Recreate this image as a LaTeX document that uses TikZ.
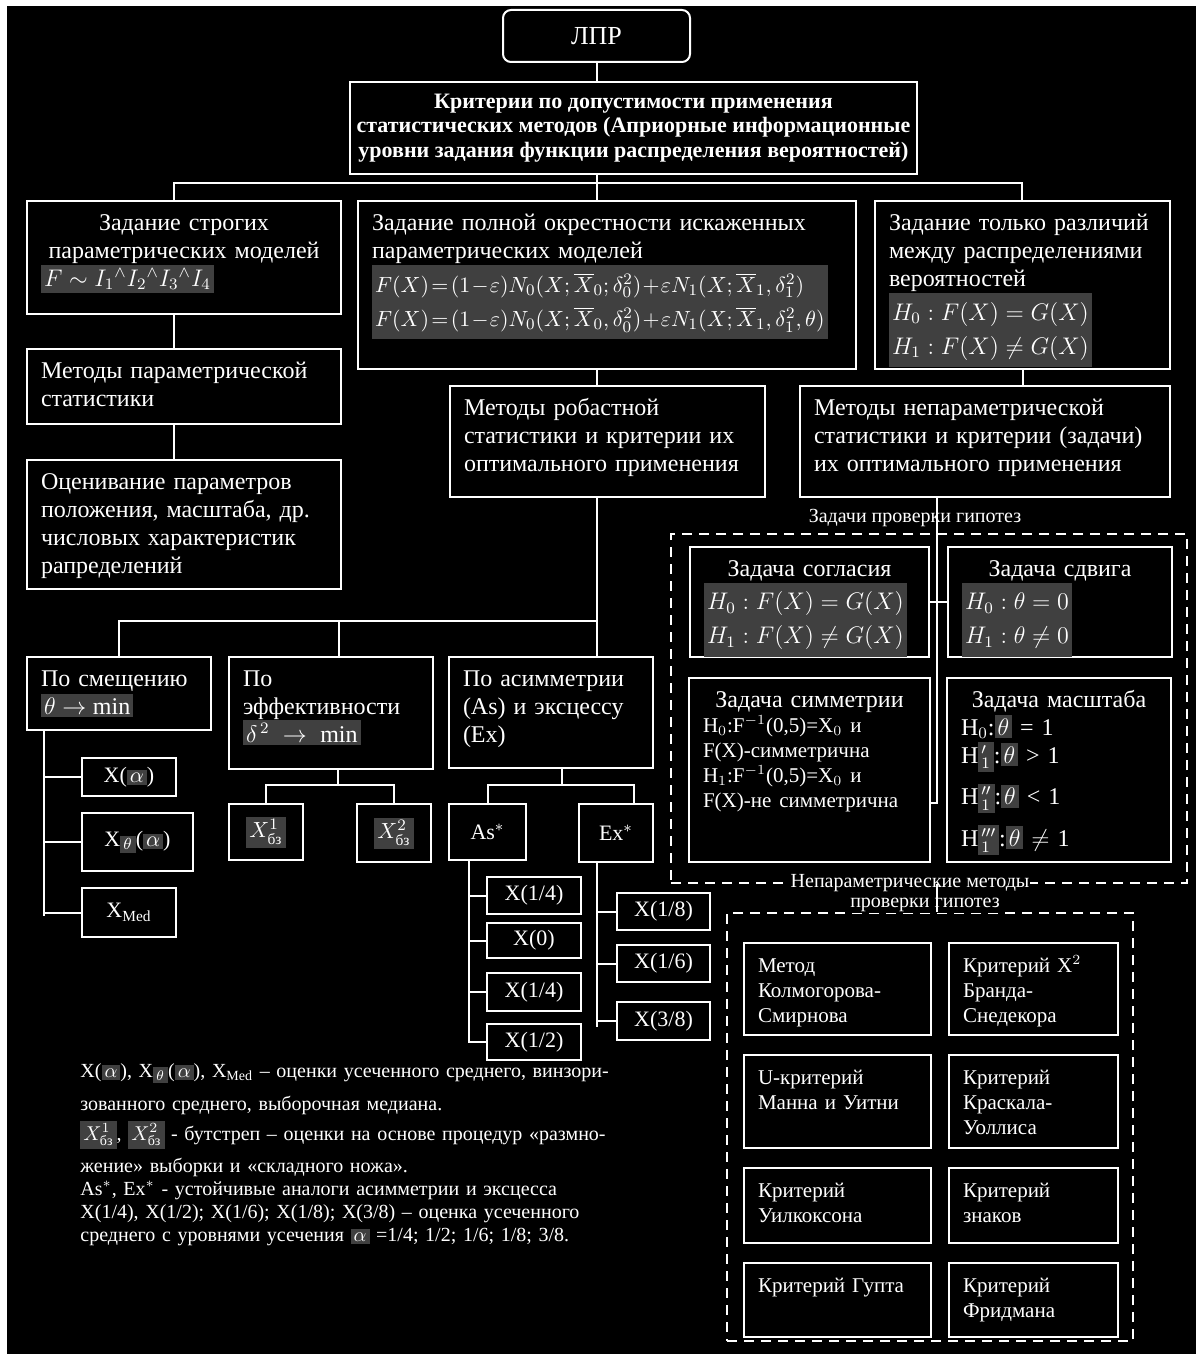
\documentclass[tikz,border=0pt]{standalone}
\usepackage{amsmath,amssymb}
\usepackage{fontspec}
\setmainfont{Liberation Serif}
\usepackage{tikz}
\usetikzlibrary{positioning}

\definecolor{hlgray}{RGB}{64,64,64}

\newcommand{\hl}[1]{{\setlength{\fboxsep}{1.5pt}\colorbox{hlgray}{#1}}}
\newcommand{\hlb}[1]{{\setlength{\fboxsep}{1.5pt}\colorbox{hlgray}{\def\arraystretch{1.22}\begin{tabular}[t]{@{}l@{}}#1\end{tabular}}}}
\newcommand{\fml}[1]{{\fontsize{11}{13}\selectfont$\thickmuskip=2mu\medmuskip=1mu #1$}}
\newcommand{\jline}[1]{\makebox[\linewidth][s]{#1}}
\newcommand{\boxfont}{\fontsize{12}{14}\selectfont}
\newcommand{\smallfont}{\fontsize{10.5}{12.5}\selectfont}
\newcommand{\notefont}{\fontsize{10}{11.5}\selectfont\lineskiplimit=-\maxdimen}

\tikzset{
	box/.style={draw=white, line width=1pt, text=white},
	blk/.code 2 args={%
		\pgfmathsetmacro\blkwd{#1*0.5-14}%
		\pgfmathsetmacro\blkdp{#2*0.5-17.5}%
		\edef\blkopts{text width=\blkwd pt, text depth=\blkdp pt}%
		\expandafter\tikzset\expandafter{\blkopts}%
		\tikzset{box, anchor=north west, inner xsep=7pt, inner ysep=3pt, text height=11.5pt, font=\boxfont}%
	},
	leaf/.style 2 args={box, anchor=north west, minimum width=#1*0.5pt, minimum height=#2*0.5pt, inner sep=0pt, font=\fontsize{11}{13}\selectfont},
	grp/.style={draw=white, line width=1pt, dash pattern=on 5pt off 3.5pt, anchor=north west, inner sep=0pt},
	lbl/.style={text=white, inner sep=0.5pt, font=\fontsize{10}{11}\selectfont},
	wire/.style={draw=white, line width=1pt},
}

\begin{document}
\begin{tikzpicture}[x=0.5pt, y=-0.5pt]
			\useasboundingbox (0,0) rectangle (1196,1354);
			\fill[white] (0,0) rectangle (1196,1354);
			\fill[black] (7,6) rectangle (1196,1354);

			\node[box, rounded corners=4pt, minimum width=93.5pt, minimum height=26pt, font=\fontsize{13}{15}\selectfont] (lpr) at (596.5,36) {ЛПР};
			\node[box, minimum width=278.5pt, minimum height=46pt, align=center, font=\fontsize{11}{12.2}\selectfont\bfseries] (crit) at (633.5,128) {Критерии по допустимости применения\\ статистических методов (Априорные информационные\\ уровни задания функции распределения вероятностей)};

			\node[blk={314}{113}] (strict) at (26,200) {{\centering Задание строгих\\ параметрических моделей\par}\hl{$F\sim I_1{}^\wedge I_2{}^\wedge I_3{}^\wedge I_4$}};
			\node[blk={498}{168}] (vicin) at (357,200) {\jline{Задание полной окрестности искаженных}\\ параметрических моделей\\ \hlb{\fml{F(X)=(1-\varepsilon)N_0(X;\overline{X}_0;\delta_0^2)+\varepsilon N_1(X;\overline{X}_1,\delta_1^2)}\\ \fml{F(X)=(1-\varepsilon)N_0(X;\overline{X}_0,\delta_0^2)+\varepsilon N_1(X;\overline{X}_1,\delta_1^2,\theta)}}};
			\node[blk={295}{168}] (diff) at (874,200) {Задание только различий\\ между распределениями\\ вероятностей\\ \hlb{$H_0: F(X)=G(X)$\\ $H_1: F(X)\neq G(X)$}};
			\node[blk={314}{75}] (param) at (26,348) {\jline{Методы параметрической}\\ статистики};
			\node[blk={314}{129}] (estim) at (26,459) {\jline{Оценивание параметров}\\ \jline{положения, масштаба, др.}\\ \jline{числовых характеристик}\\ рапределений};
			\node[blk={315}{111}] (robust) at (449,385) {\jline{Методы робастной}\\ \jline{статистики и критерии их}\\ оптимального применения};
			\node[blk={370}{111}] (nonpar) at (799,385) {\jline{Методы непараметрической}\\ \jline{статистики и критерии (задачи)}\\ их оптимального применения};

			\node[blk={184}{73}] (bias) at (26,656) {По смещению\\ \hl{$\theta\to\min$}};
			\node[blk={204}{112}] (effic) at (228,656) {По\\ эффективности\\ \hl{$\delta^{\,2}\;\to\;\min$}};
			\node[blk={204}{111}] (asym) at (448,656) {По асимметрии\\ (As) и эксцессу\\ (Ex)};

			\node[leaf={94}{38}] (xa) at (81,757) {X(\hl{$\alpha$})};
			\node[leaf={111}{58}] (xw) at (81,812) {X\hl{$_\theta$}(\hl{$\alpha$})};
			\node[leaf={94}{49}] (xmed) at (81,887) {X$_{\text{Med}}$};
			\node[leaf={74}{56}] (boot1) at (228,803) {\hl{$X^1_{\text{бз}}$}};
			\node[leaf={74}{58}] (boot2) at (356,803) {\hl{$X^2_{\text{бз}}$}};
			\node[leaf={77}{56}] (as) at (448,803) {As$^*$};
			\node[leaf={74}{58}] (ex) at (578,803) {Ex$^*$};

			\node[leaf={94}{37}] (as1) at (486,876) {X(1/4)};
			\node[leaf={94}{35}, below=3.5pt of as1] (as2) {X(0)};
			\node[leaf={94}{38}, below=6.5pt of as2] (as3) {X(1/4)};
			\node[leaf={94}{36}, below=5.5pt of as3] (as4) {X(1/2)};
			\node[leaf={93}{37}] (ex1) at (616,892) {X(1/8)};
			\node[leaf={93}{37}, below=6.5pt of ex1] (ex2) {X(1/6)};
			\node[leaf={93}{38}, below=9pt of ex2] (ex3) {X(3/8)};

			\node[grp, minimum width=258pt, minimum height=174.5pt] (tasks) at (670,533) {};
			\node[lbl] (taskslab) at (915,518) {Задачи проверки гипотез};
			\node[blk={239}{110}] (agree) at (689,546) {{\centering Задача согласия\par}\hlb{$H_0 : F(X) = G(X)$\\ $H_1 : F(X)\neq G(X)$}};
			\node[blk={224}{110}, right=8.5pt of agree] (move) {{\centering Задача сдвига\par}\hlb{$H_0 : \theta = 0$\\ $H_1 : \theta\neq 0$}};
			\node[blk={241}{184}, below=9.5pt of agree] (symm) {{\centering Задача симметрии\par}{\smallfont H$_0$:F$^{-1}$(0,5)=X$_0$ и\\ F(X)-симметрична\\ H$_1$:F$^{-1}$(0,5)=X$_0$ и\\ F(X)-не симметрична\par}};
			\node[blk={224}{184}, right=7.5pt of symm] (scal) {{\centering Задача масштаба\par}H$_0$:\hl{$\theta$} = 1\\ H\hl{${}'_1$}:\hl{$\theta$} > 1\\[5pt] H\hl{${}''_1$}:\hl{$\theta$} < 1\\[5pt] H\hl{${}'''_1$}:\hl{$\theta$} $\neq$ 1};

			\node[grp, minimum width=203pt, minimum height=214pt] (meth) at (726,912) {};
			\node[lbl, fill=black] (methlab1) at (910,883) {Непараметрические методы};
			\node[lbl, fill=black] (methlab2) at (925,905) {проверки гипотез};
			\node[blk={187}{92}, font=\smallfont] (kolm) at (743,942) {Метод\\ Колмогорова-\\ Смирнова};
			\node[blk={169}{92}, font=\smallfont, right=8pt of kolm] (chi) {Критерий Х$^2$\\ Бранда-\\ Снедекора};
			\node[blk={187}{93}, font=\smallfont, below=9pt of kolm] (mann) {U-критерий\\ Манна и Уитни};
			\node[blk={169}{93}, font=\smallfont, right=8pt of mann] (krus) {Критерий\\ Краскала-\\ Уоллиса};
			\node[blk={187}{75}, font=\smallfont, below=9pt of mann] (wilc) {Критерий\\ Уилкоксона};
			\node[blk={169}{75}, font=\smallfont, right=8pt of wilc] (sign) {Критерий\\ знаков};
			\node[blk={187}{74}, font=\smallfont, below=9pt of wilc] (gupt) {Критерий Гупта};
			\node[blk={169}{74}, font=\smallfont, right=8pt of gupt] (fried) {Критерий\\ Фридмана};

			\node[text=white, anchor=base west, text width=300pt, align=left, inner sep=0pt, font=\notefont] (notes) at (80,1077) {X(\hl{$\alpha$}), X\hl{$_\theta$}(\hl{$\alpha$}), X$_{\text{Med}}$ -- оценки усеченного среднего, винзори-\\[5pt]
				зованного среднего, выборочная медиана.\\[3.5pt]
				\hl{$X^1_{\text{бз}}$}, \hl{$X^2_{\text{бз}}$} - бутстреп -- оценки на основе процедур «размно-\\[4.5pt]
				жение» выборки и «складного ножа».\\
				As$^*$, Ex$^*$ - устойчивые аналоги асимметрии и эксцесса\\
				X(1/4), X(1/2); X(1/6); X(1/8); X(3/8) -- оценка усеченного\\
				среднего с уровнями усечения \hl{$\alpha$} =1/4; 1/2; 1/6; 1/8; 3/8.};

			\coordinate (busA) at (174,183);
			\coordinate (busC) at (1022,183);
			\coordinate (busL) at (119,621);
			\coordinate (effx) at (339,621);
			\coordinate (effj) at (338,785);
			\coordinate (asj) at (562,785);
			\coordinate (exj) at (634,785);
			\coordinate (tS) at (44,916);
			\coordinate (tA) at (469,1043);
			\coordinate (tE) at (597,1027);
			\coordinate (nj) at (937,803);

			\draw[wire] (lpr.south) -- (lpr.south |- crit.north);
			\draw[wire] (lpr.south |- crit.south) -- (lpr.south |- vicin.north);
			\draw[wire] (busA |- strict.north) -- (busA) -- (busC) -- (busC |- diff.north);
			\draw[wire] (busA |- strict.south) -- (busA |- param.north);
			\draw[wire] (busA |- param.south) -- (busA |- estim.north);
			\draw[wire] (lpr.south |- vicin.south) -- (lpr.south |- robust.north);
			\draw[wire] (diff.south) -- (diff.south |- nonpar.north);
			\draw[wire] (lpr.south |- robust.south) -- (lpr.south |- asym.north);
			\draw[wire] (busL |- bias.north) -- (busL) -- (lpr.south |- busL);
			\draw[wire] (effx) -- (effx |- effic.north);

			\draw[wire] (tS |- bias.south) -- (tS);
			\foreach \n in {xa,xw,xmed}
				\draw[wire] (tS |- \n.west) -- (\n.west);
			\draw[wire] (effj |- effic.south) -- (effj);
			\draw[wire] (boot1.north) -- (boot1.north |- effj) -- (boot2.north |- effj) -- (boot2.north);
			\draw[wire] (asj |- asym.south) -- (asj);
			\draw[wire] (as.north) -- (as.north |- asj) -- (exj) -- (exj |- ex.north);
			\draw[wire] (tA |- as.south) -- (tA);
			\foreach \n in {as1,as2,as3,as4}
				\draw[wire] (tA |- \n.west) -- (\n.west);
			\draw[wire] (tE |- ex.south) -- (tE);
			\foreach \n in {ex1,ex2,ex3}
				\draw[wire] (tE |- \n.west) -- (\n.west);

			\draw[wire] (nj |- nonpar.south) -- (nj) -- (nj -| symm.east);
			\draw[wire] (agree.east) -- (move.west);
			\draw[wire] (nj |- tasks.south) -- (nj |- meth.north);
\end{tikzpicture}
\end{document}
